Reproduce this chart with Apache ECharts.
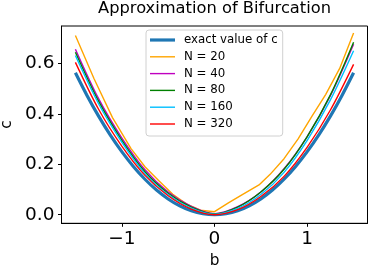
<!DOCTYPE html>
<html>
<head>
<meta charset="utf-8">
<script src="https://cdn.jsdelivr.net/npm/echarts@6/dist/echarts.min.js"></script>
<style>
html,body{margin:0;padding:0;background:#fff;}
#chart{width:374px;height:274px;}
</style>
</head>
<body>
<div id="chart"></div>
<script>
// ---- data ----
const seriesNames = ['exact value of c', 'N = 20', 'N = 40', 'N = 80', 'N = 160', 'N = 320'];
const xTicks = [-1, 0, 1];
const yTicks = [0, 0.2, 0.4, 0.6];

const bExact = [-1.5,-1.375,-1.25,-1.125,-1.0,-0.875,-0.75,-0.625,-0.5,-0.375,-0.25,-0.125,0,
                0.125,0.25,0.375,0.5,0.625,0.75,0.875,1.0,1.125,1.25,1.375,1.5];
const cExact = [0.5625,0.4727,0.3906,0.3164,0.25,0.1914,0.1406,0.0977,0.0625,0.0352,0.0156,0.0039,0,
                0.0039,0.0156,0.0352,0.0625,0.0977,0.1406,0.1914,0.25,0.3164,0.3906,0.4727,0.5625];

const bN20 = [-1.5,-1.3,-1.1,-0.9,-0.75,-0.6,-0.45,-0.3,-0.15,0,0.15,0.3,0.48,0.6,0.75,0.9,1.05,1.2,1.35,1.5];
const cN20 = [0.71,0.54,0.385,0.262,0.19,0.135,0.081,0.042,0.018,0.012,0.047,0.08,0.118,0.16,0.222,0.30,0.39,0.477,0.58,0.72];

const bGrid = [-1.5,-1.25,-1.0,-0.75,-0.5,-0.25,0,0.25,0.5,0.75,1.0,1.25,1.5];
const cN40  = [0.656,0.46,0.305,0.178,0.09,0.033,0.004,0.032,0.09,0.182,0.31,0.472,0.676];
const cN80  = [0.644,0.45,0.296,0.17,0.085,0.03,0.003,0.03,0.09,0.18,0.31,0.475,0.684];
const cN160 = [0.631,0.44,0.288,0.163,0.08,0.026,0.002,0.025,0.08,0.168,0.295,0.455,0.65];
const cN320 = [0.604,0.418,0.272,0.156,0.075,0.022,0.0,0.02,0.072,0.152,0.268,0.415,0.596];

const colors = ['#1f77b4', '#ffa500', '#bf00bf', '#008000', '#00bfff', '#ff0000'];
const widths = [3.2, 1.4, 1.4, 1.4, 1.4, 1.4];

function zip(xs, ys) { return xs.map((x, i) => [x, ys[i]]); }
const seriesData = [
  zip(bExact, cExact), zip(bN20, cN20), zip(bGrid, cN40),
  zip(bGrid, cN80), zip(bGrid, cN160), zip(bGrid, cN320)
];
const smoothFlags = [0.3, false, 0.3, 0.3, 0.3, 0.3];

const font = 'DejaVu Sans';
const chart = echarts.init(document.getElementById('chart'), null, {renderer: 'canvas'});
chart.setOption({
  animation: false,
  backgroundColor: '#fff',
  title: {
    text: 'Approximation of Bifurcation',
    left: 214.5, top: 1, textAlign: 'center', padding: 0,
    textStyle: {fontFamily: font, fontSize: 16.3, fontWeight: 'normal', color: '#000'}
  },
  legend: {
    orient: 'vertical', left: 146, top: 30,
    data: seriesNames.map((n, i) => ({
      name: n,
      icon: 'path://M0,0H25V' + widths[i] + 'H0Z',
      itemStyle: {color: colors[i], borderWidth: 0}
    })),
    backgroundColor: 'rgba(255,255,255,0.8)',
    borderColor: '#d0d0d0', borderWidth: 1, borderRadius: 3,
    padding: [4, 5, 6, 4],
    itemWidth: 25, itemHeight: 12, itemGap: 4.8,
    textStyle: {fontFamily: font, fontSize: 11.8, color: '#000', lineHeight: 12, padding: [0,0,0,4]}
  },
  grid: {left: 61.5, right: 6.5, top: 26, bottom: 50.7, show: true, borderColor: '#000', borderWidth: 1,
         containLabel: false, outerBoundsMode: 'none'},
  xAxis: {
    type: 'value', min: -1.65, max: 1.65,
    name: 'b', nameLocation: 'middle', nameGap: 22,
    nameTextStyle: {fontFamily: font, fontSize: 15.3, color: '#000'},
    axisLine: {show: true, onZero: false, lineStyle: {color: '#000', width: 1}},
    axisTick: {show: true, length: 3.5, lineStyle: {color: '#000'}, customValues: xTicks},
    axisLabel: {fontFamily: font, fontSize: 18.5, color: '#000', margin: 6, customValues: xTicks,
      formatter: v => (v < 0 ? '\u2212' + Math.abs(v) : String(v))},
    splitLine: {show: false}
  },
  yAxis: {
    type: 'value', min: -0.034, max: 0.748,
    name: 'c', nameLocation: 'middle', nameGap: 29, nameRotate: 90,
    nameTextStyle: {fontFamily: font, fontSize: 15.3, color: '#000'},
    axisLine: {show: true, onZero: false, lineStyle: {color: '#000', width: 1}},
    axisTick: {show: true, length: 3.5, lineStyle: {color: '#000'}, customValues: yTicks},
    axisLabel: {fontFamily: font, fontSize: 18.5, color: '#000', margin: 7, customValues: yTicks,
      formatter: v => v.toFixed(1)},
    splitLine: {show: false}
  },
  series: seriesNames.map((name, i) => ({
    name: name, type: 'line', data: seriesData[i],
    symbol: 'none', smooth: smoothFlags[i],
    z: 2 + i,
    lineStyle: {color: colors[i], width: widths[i]},
    itemStyle: {color: colors[i]}
  }))
});
</script>
</body>
</html>
